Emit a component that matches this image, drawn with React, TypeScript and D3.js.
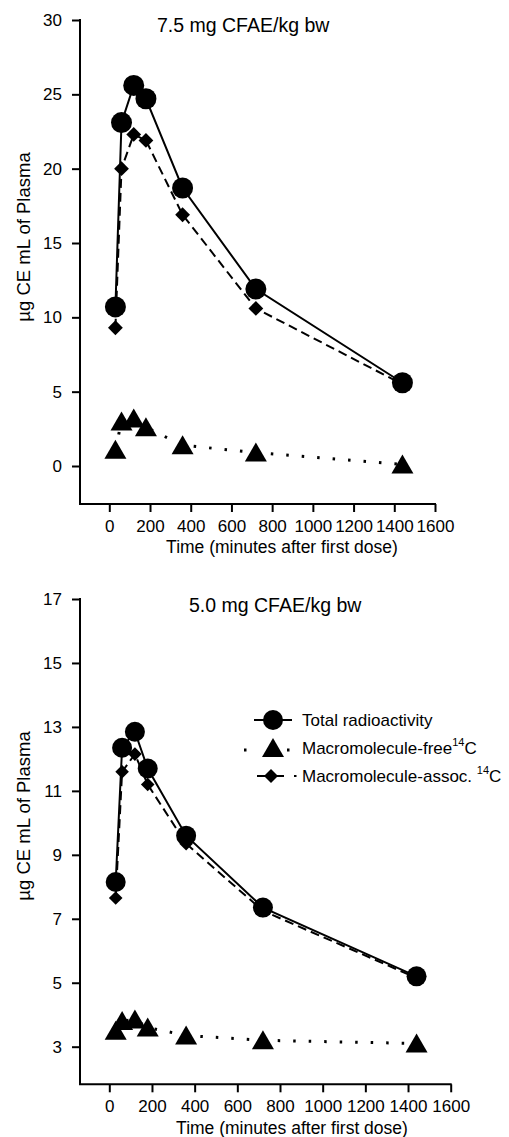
import React, { useEffect, useRef } from 'react';
import * as d3 from 'd3';

// sampling times (minutes after first dose)
const times = [30, 60, 120, 180, 360, 720, 1440];

// 7.5 mg CFAE/kg bw
const totalHigh = [10.7, 23.1, 25.6, 24.7, 18.7, 11.9, 5.6];
const assocHigh = [9.3, 20.0, 22.3, 21.9, 16.9, 10.6, 5.5];
const freeHigh = [1.1, 3.0, 3.2, 2.6, 1.4, 0.9, 0.1];

// 5.0 mg CFAE/kg bw
const totalLow = [8.15, 12.35, 12.85, 11.7, 9.6, 7.35, 5.2];
const assocLow = [7.65, 11.6, 12.15, 11.2, 9.35, 7.25, 5.15];
const freeLow = [3.5, 3.8, 3.85, 3.6, 3.35, 3.2, 3.1];

const xTicks = [0, 200, 400, 600, 800, 1000, 1200, 1400, 1600];
const yTicksHigh = [0, 5, 10, 15, 20, 25, 30];
const yTicksLow = [3, 5, 7, 9, 11, 13, 15, 17];

const legendLabels = ['Total radioactivity', 'Macromolecule-free', 'Macromolecule-assoc. '];

const FONT = "'Liberation Sans', Arial, Helvetica, sans-serif";

const panels = [
  {
    title: '7.5 mg CFAE/kg bw', titleX: 157, titleY: 32,
    total: totalHigh, assoc: assocHigh, free: freeHigh,
    yTicks: yTicksHigh, yDomain: [0, 30], yRange: [466, 20],
    xRange: [109.3, 435], axisY: 504, labelX: 282, labelY: 553, yLabelCy: 237,
    r: 10.5, dia: 7.4, legend: false,
  },
  {
    title: '5.0 mg CFAE/kg bw', titleX: 189, titleY: 612,
    total: totalLow, assoc: assocLow, free: freeLow,
    yTicks: yTicksLow, yDomain: [3, 17], yRange: [1046.7, 599],
    xRange: [109.3, 450.7], axisY: 1084.3, labelX: 292, labelY: 1134, yLabelCy: 816,
    r: 10, dia: 6.8, legend: true,
  },
];

const triPath = (cx, cy) => `M${cx},${cy - 10}L${cx + 11},${cy + 9}L${cx - 11},${cy + 9}Z`;
const diaPath = (cx, cy, s) => `M${cx},${cy - s}L${cx + s},${cy}L${cx},${cy + s}L${cx - s},${cy}Z`;

const App = () => {
  const ref = useRef(null);

  useEffect(() => {
    const svg = d3.select(ref.current);
    svg.selectAll('*').remove();

    panels.forEach(p => {
      const x = d3.scaleLinear().domain([0, 1600]).range(p.xRange);
      const y = d3.scaleLinear().domain(p.yDomain).range(p.yRange);
      const g = svg.append('g');

      // axis lines
      g.append('line').attr('x1', 80).attr('x2', 80).attr('y1', p.yRange[1] - 1).attr('y2', p.axisY)
        .attr('stroke', '#000').attr('stroke-width', 2);
      g.append('line').attr('x1', 79).attr('x2', x(1600) + 1).attr('y1', p.axisY).attr('y2', p.axisY)
        .attr('stroke', '#000').attr('stroke-width', 2);

      const yAxis = g.append('g').attr('transform', 'translate(80,0)')
        .call(d3.axisLeft(y).tickValues(p.yTicks).tickFormat(d3.format('d'))
          .tickSize(8).tickPadding(10).tickSizeOuter(0));
      const xAxis = g.append('g').attr('transform', `translate(0,${p.axisY})`)
        .call(d3.axisBottom(x).tickValues(xTicks).tickFormat(d3.format('d'))
          .tickSize(8).tickPadding(8).tickSizeOuter(0));
      [yAxis, xAxis].forEach(a => {
        a.select('.domain').remove();
        a.attr('font-family', FONT).attr('font-size', 17);
        a.selectAll('line').attr('stroke-width', 2);
        a.selectAll('text').attr('fill', '#000');
      });

      // series lines
      const line = d3.line().x(d => x(d[0])).y(d => y(d[1]));
      const pts = vals => times.map((t, i) => [t, vals[i]]);
      g.append('path').attr('d', line(pts(p.free))).attr('fill', 'none').attr('stroke', '#000')
        .attr('stroke-width', 3).attr('stroke-dasharray', '2.5,13');
      g.append('path').attr('d', line(pts(p.assoc))).attr('fill', 'none').attr('stroke', '#000')
        .attr('stroke-width', 2).attr('stroke-dasharray', '9,5');
      g.append('path').attr('d', line(pts(p.total))).attr('fill', 'none').attr('stroke', '#000')
        .attr('stroke-width', 2);

      // markers
      g.append('g').selectAll('path').data(pts(p.free)).join('path')
        .attr('d', d => triPath(x(d[0]), y(d[1]))).attr('fill', '#000');
      g.append('g').selectAll('path').data(pts(p.assoc)).join('path')
        .attr('d', d => diaPath(x(d[0]), y(d[1]), p.dia)).attr('fill', '#000');
      g.append('g').selectAll('circle').data(pts(p.total)).join('circle')
        .attr('cx', d => x(d[0])).attr('cy', d => y(d[1])).attr('r', p.r).attr('fill', '#000');

      // text
      g.append('text').attr('x', p.titleX).attr('y', p.titleY).attr('font-family', FONT)
        .attr('font-size', 19.5).text(p.title);
      g.append('text').attr('x', p.labelX).attr('y', p.labelY).attr('text-anchor', 'middle')
        .attr('font-family', FONT).attr('font-size', 17.5).text('Time (minutes after first dose)');
      g.append('text').attr('transform', `translate(30,${p.yLabelCy}) rotate(-90)`)
        .attr('text-anchor', 'middle').attr('font-family', FONT).attr('font-size', 18.5)
        .text('µg CE mL of Plasma');

      if (p.legend) {
        const rows = [720, 748, 776];
        const lg = g.append('g').attr('font-family', FONT).attr('font-size', 17);
        // total
        lg.append('line').attr('x1', 254).attr('x2', 292).attr('y1', rows[0]).attr('y2', rows[0])
          .attr('stroke', '#000').attr('stroke-width', 2);
        lg.append('circle').attr('cx', 273).attr('cy', rows[0]).attr('r', 10).attr('fill', '#000');
        // free
        lg.append('line').attr('x1', 244).attr('x2', 292).attr('y1', rows[1] + 2).attr('y2', rows[1] + 2)
          .attr('stroke', '#000').attr('stroke-width', 3).attr('stroke-dasharray', '2.5,40.5,2.5');
        lg.append('path').attr('d', triPath(273, rows[1])).attr('fill', '#000');
        // assoc
        lg.append('line').attr('x1', 257).attr('x2', 298).attr('y1', rows[2]).attr('y2', rows[2])
          .attr('stroke', '#000').attr('stroke-width', 2).attr('stroke-dasharray', '27,10,2.5');
        lg.append('path').attr('d', diaPath(271, rows[2], 7)).attr('fill', '#000');

        rows.forEach((ry, i) => {
          const t = lg.append('text').attr('x', 302).attr('y', ry + 6).text(legendLabels[i]);
          if (i > 0) {
            t.append('tspan').attr('font-size', 11).attr('dy', -8).text('14');
            t.append('tspan').attr('dy', 8).text('C');
          }
        });
      }
    });
  }, []);

  return (
    <svg ref={ref} width={509} height={1137}
      style={{ position: 'absolute', left: 0, top: 0, background: '#fff' }} />
  );
};

export default App;
